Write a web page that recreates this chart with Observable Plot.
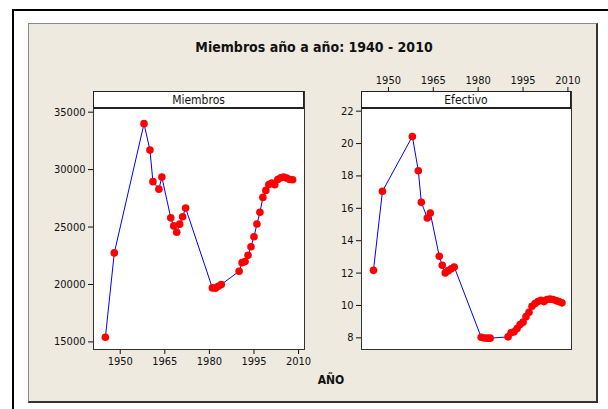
<!DOCTYPE html>
<html>
<head>
<meta charset="utf-8">
<script src="https://cdn.jsdelivr.net/npm/d3@7"></script>
<script src="https://cdn.jsdelivr.net/npm/@observablehq/plot@0.6"></script>
<style>
  html, body { margin: 0; padding: 0; background: #ffffff; }
  #page { position: relative; width: 608px; height: 409px; overflow: hidden; font-family: "DejaVu Sans Condensed", "DejaVu Sans", sans-serif; }
  .abs { position: absolute; }
  #hline { left: 12px; top: 9px; width: 596px; height: 2px; background: #000; }
  #vline { left: 12px; top: 9px; width: 2px; height: 400px; background: #000; }
  #panel { left: 28px; top: 23px; width: 567px; height: 377px; background: #eeeae0; border-top: 1px solid #8a8a8a; border-left: 1px solid #8a8a8a; border-right: 2px solid #333; border-bottom: 2px solid #333; }
  #title { left: 0; width: 628px; top: 39px; text-align: center; font-weight: bold; font-size: 14px; color: #111; }
  #xlabel { left: 300px; width: 62px; top: 373px; text-align: center; font-weight: bold; font-size: 12px; color: #111; }
  .strip { background: #fff; border: 1px solid #222; border-bottom: 2px solid #222; text-align: center; font-size: 12px; line-height: 16px; color: #111; box-sizing: border-box; }
  .chart { left: 0; top: 0; }
</style>
</head>
<body>
<div id="page">
  <div id="hline" class="abs"></div>
  <div id="vline" class="abs"></div>
  <div id="panel" class="abs"></div>
  <div id="title" class="abs">Miembros año a año: 1940 - 2010</div>
  <div id="left" class="abs chart"></div>
  <div id="right" class="abs chart"></div>
  <div id="strip1" class="abs strip" style="left:93px; top:91px; width:211px; height:18px;">Miembros</div>
  <div id="strip2" class="abs strip" style="left:361px; top:91px; width:210px; height:18px;">Efectivo</div>
  <div id="xlabel" class="abs">AÑO</div>
</div>
<script>
const years = [1945, 1948, 1958, 1960, 1961, 1963, 1964, 1967, 1968, 1969, 1970, 1971, 1972,
  1981, 1982, 1983, 1984,
  1990, 1991, 1992, 1993, 1994, 1995, 1996, 1997, 1998, 1999, 2000, 2001, 2002, 2003, 2004, 2005, 2006, 2007, 2008];
const miembros = [15400, 22750, 34000, 31700, 28950, 28300, 29350, 25800, 25100, 24550, 25250, 25900, 26650,
  19700, 19680, 19850, 20000,
  21150, 21900, 21990, 22540, 23290, 24160, 25260, 26280, 27580, 28190, 28710, 28830, 28680, 29140, 29290, 29350, 29260, 29140, 29120];
const efectivo = [12.17, 17.05, 20.44, 18.32, 16.37, 15.40, 15.71, 13.04, 12.48, 12.01, 12.15, 12.26, 12.38,
  8.04, 7.99, 7.98, 7.98,
  8.06, 8.31, 8.37, 8.58, 8.82, 8.97, 9.31, 9.58, 9.95, 10.12, 10.24, 10.32, 10.24, 10.37, 10.39, 10.37, 10.30, 10.24, 10.16];
const xTicks = [1950, 1965, 1980, 1995, 2010];
const yTicksMiembros = [15000, 20000, 25000, 30000, 35000];
const yTicksEfectivo = [8, 10, 12, 14, 16, 18, 20, 22];

const dataM = years.map((y, i) => ({year: y, value: miembros[i]}));
const dataE = years.map((y, i) => ({year: y, value: efectivo[i]}));

const style = {
  background: "transparent",
  overflow: "visible",
  fontFamily: "'DejaVu Sans Condensed', 'DejaVu Sans', sans-serif",
  fontSize: "11px",
  color: "#111"
};

function panel(data, opts) {
  return Plot.plot({
    width: 608,
    height: 409,
    marginLeft: opts.ml,
    marginRight: opts.mr,
    marginTop: 91,
    marginBottom: 60,
    style,
    x: {domain: opts.xDomain, ticks: xTicks, tickFormat: d => String(d), tickSize: 5, tickPadding: 3, label: null, axis: opts.xAxis},
    y: {domain: opts.yDomain, ticks: opts.yTicks, tickFormat: d => String(d), tickSize: 5, tickPadding: 3, label: null},
    marks: [
      Plot.frame({fill: "white", stroke: "#333", strokeWidth: 1}),
      Plot.line(data, {x: "year", y: "value", stroke: "#0000ff", strokeWidth: 1}),
      Plot.dot(data, {x: "year", y: "value", r: 3.8, fill: "#ff0000", stroke: "none"})
    ]
  });
}

document.getElementById("left").appendChild(panel(dataM, {
  ml: 93, mr: 304, xDomain: [1941, 2012], yDomain: [14339, 36800], yTicks: yTicksMiembros, xAxis: "bottom"
}));
document.getElementById("right").appendChild(panel(dataE, {
  ml: 361, mr: 37, xDomain: [1941, 2011.2], yDomain: [7.28, 23.215], yTicks: yTicksEfectivo, xAxis: "top"
}));
</script>
</body>
</html>
